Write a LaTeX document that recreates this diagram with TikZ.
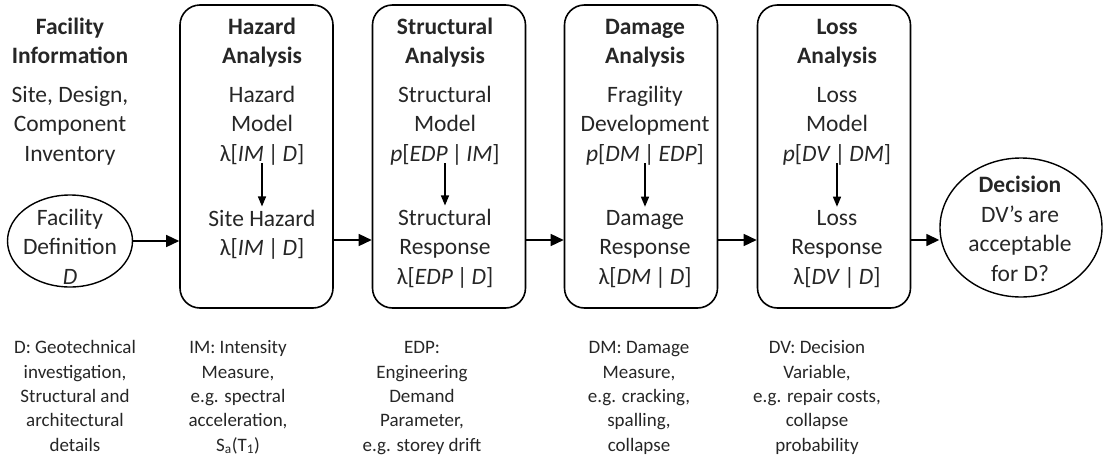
\documentclass[tikz,border=0pt]{standalone}
\usepackage{fontspec}
\setmainfont{Carlito}
\usetikzlibrary{arrows.meta,shapes.geometric}
\begin{document}
\begin{tikzpicture}[x=1pt,y=-1pt,
  box/.style={draw,line width=1.6pt,rounded corners=20pt,minimum width=153pt,minimum height=303pt,inner sep=0pt},
  big/.style={font=\fontsize{23.5}{29.5}\selectfont,align=center,inner sep=0pt,anchor=base,text=black!85},
  bigb/.style={big,font=\fontsize{23.5}{29.5}\selectfont\bfseries},
  small/.style={font=\fontsize{19}{24.3}\selectfont,align=center,inner sep=0pt,anchor=base,text=black!85},
  ell/.style={draw,ellipse,line width=1.4pt,inner sep=0pt},
  flow/.style={line width=1.5pt,-{Triangle[length=13pt,width=12pt]}},
  down/.style={line width=1.3pt,-{Triangle[length=10pt,width=8pt]},shorten >=3pt,shorten <=-2pt}]

\useasboundingbox (0,0) rectangle (1104,461);
\coordinate (mid) at (0,240);

% shapes
\node[ell,minimum width=125pt,minimum height=92pt] (fac) at (70,241) {};
\node[box] (haz) at (256.5,156.5) {};
\node[box] (str) at (449,156.5) {};
\node[box] (dam) at (641,156.5) {};
\node[box] (los) at (834,156.5) {};
\node[ell,minimum width=162pt,minimum height=139pt] (dec) at (1021,227.5) {};

% column 1 (anchor = baseline of last line)
\node[bigb] (t0) at (70,63.5) {Facility\\Information};
\node[big] (m0) at (70,161) {Site, Design,\\Component\\Inventory};
\node[big] (r0) at (70,284) {Facility\\Definition\\\textit{D}};

% hazard
\node[bigb] (t1) at (262,63.5) {Hazard\\Analysis};
\node[big] (m1) at (262,161) {Hazard\\Model\\λ[\textit{IM}\,|\,\textit{D}]};
\node[big] (r1) at (262,255.5) {Site Hazard\\λ[\textit{IM}\,|\,\textit{D}]};

% structural
\node[bigb] (t2) at (445,63.5) {Structural\\Analysis};
\node[big] (m2) at (445,161) {Structural\\Model\\\textit{p}[\textit{EDP}\,|\,\textit{IM}]};
\node[big] (r2) at (445,284) {Structural\\Response\\λ[\textit{EDP}\,|\,\textit{D}]};

% damage
\node[bigb] (t3) at (645,63.5) {Damage\\Analysis};
\node[big] (m3) at (645,161) {Fragility\\Development\\\textit{p}[\textit{DM}\,|\,\textit{EDP}]};
\node[big] (r3) at (645,284) {Damage\\Response\\λ[\textit{DM}\,|\,\textit{D}]};

% loss
\node[bigb] (t4) at (837,63.5) {Loss\\Analysis};
\node[big] (m4) at (837,161) {Loss\\Model\\\textit{p}[\textit{DV}\,|\,\textit{DM}]};
\node[big] (r4) at (837,284) {Loss\\Response\\λ[\textit{DV}\,|\,\textit{D}]};

% decision
\node[big] (d0) at (1020,281) {\textbf{Decision}\\DV’s are\\acceptable\\for D?};

% inner arrows
\draw[down] (m1.south) -- (r1.north);
\draw[down] (m2.south) -- (r2.north);
\draw[down] (m3.south) -- (r3.north);
\draw[down] (m4.south) -- (r4.north);

% flow arrows
\draw[flow] (fac.east) -- (fac.east -| haz.west);
\draw[flow] (haz.east |- mid) -- (str.west |- mid);
\draw[flow] (str.east |- mid) -- (dam.west |- mid);
\draw[flow] (dam.east |- mid) -- (los.west |- mid);
\draw[flow] (los.east |- mid) -- (mid -| dec.west);

% bottom notes
\node[small] (n0) at (75,451) {D: Geotechnical\\investigation,\\Structural and\\architectural\\details};
\node[small] (n1) at (238,451) {IM: Intensity\\Measure,\\e.g. spectral\\acceleration,\\S\textsubscript{a}(T\textsubscript{1})};
\node[small] (n2) at (422,451) {EDP:\\Engineering\\Demand\\Parameter,\\e.g. storey drift};
\node[small] (n3) at (639,451) {DM: Damage\\Measure,\\e.g. cracking,\\spalling,\\collapse};
\node[small] (n4) at (817,451) {DV: Decision\\Variable,\\e.g. repair costs,\\collapse\\probability};
\end{tikzpicture}
\end{document}
